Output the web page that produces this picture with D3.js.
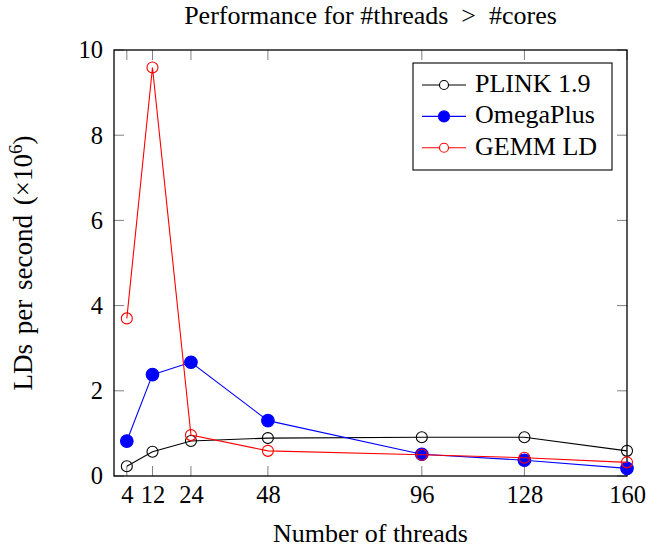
<!DOCTYPE html>
<html>
<head>
<meta charset="utf-8">
<script src="https://cdn.jsdelivr.net/npm/d3@7"></script>
<style>
  body { margin: 0; background: #fff; }
</style>
</head>
<body>
<div id="chart"></div>
<script>
// Data
const threads = [4, 12, 24, 48, 96, 128, 160];
const plink = [0.23, 0.57, 0.82, 0.89, 0.91, 0.91, 0.59];
const omegaPlus = [0.82, 2.38, 2.67, 1.30, 0.51, 0.37, 0.18];
const gemmLD = [3.70, 9.59, 0.96, 0.59, 0.50, 0.43, 0.32];
const yTicks = [0, 2, 4, 6, 8, 10];

const series = [
  {name: 'PLINK 1.9', values: plink, color: '#000', filled: false},
  {name: 'OmegaPlus', values: omegaPlus, color: '#00f', filled: true},
  {name: 'GEMM LD', values: gemmLD, color: '#f00', filled: false},
];

const width = 647;
const height = 550;
const margin = {top: 50, right: 20, bottom: 74, left: 114};
const TICK = 10;
const FONT = '"Liberation Serif"';

const svg = d3.select('#chart')
  .append('svg')
  .attr('width', width)
  .attr('height', height);

const x = d3.scaleLinear().domain([0, 160]).range([margin.left, width - margin.right]);
const y = d3.scaleLinear().domain([0, 10]).range([height - margin.bottom, margin.top]);

// grey tick marks, mirrored on all four sides, pointing inward
const ticks = svg.append('g').attr('stroke', '#808080').attr('stroke-width', 1);
threads.forEach(t => {
  ticks.append('line').attr('x1', x(t)).attr('x2', x(t))
    .attr('y1', y(0)).attr('y2', y(0) - TICK);
  ticks.append('line').attr('x1', x(t)).attr('x2', x(t))
    .attr('y1', y(10)).attr('y2', y(10) + TICK);
});
yTicks.forEach(v => {
  ticks.append('line').attr('x1', x(0)).attr('x2', x(0) + TICK)
    .attr('y1', y(v)).attr('y2', y(v));
  ticks.append('line').attr('x1', x(160)).attr('x2', x(160) - TICK)
    .attr('y1', y(v)).attr('y2', y(v));
});

// tick labels via axes (no tick lines, just text)
const xAxis = svg.append('g')
  .attr('transform', `translate(0,${y(0)})`)
  .call(d3.axisBottom(x).tickValues(threads).tickSize(0).tickPadding(10));
const yAxis = svg.append('g')
  .attr('transform', `translate(${x(0)},0)`)
  .call(d3.axisLeft(y).tickValues(yTicks).tickSize(0).tickPadding(11));
[xAxis, yAxis].forEach(a => {
  a.attr('font-family', FONT).attr('font-size', 24.5);
  a.select('.domain').remove();
});

// frame
svg.append('rect')
  .attr('x', x(0)).attr('y', y(10))
  .attr('width', x(160) - x(0)).attr('height', y(0) - y(10))
  .attr('fill', 'none').attr('stroke', '#000').attr('stroke-width', 1.3);

const line = d3.line().x((d, i) => x(threads[i])).y(d => y(d));

series.forEach(s => {
  const g = svg.append('g');
  g.append('path')
    .attr('d', line(s.values))
    .attr('fill', 'none')
    .attr('stroke', s.color)
    .attr('stroke-width', 1.1);
  g.selectAll('circle')
    .data(s.values)
    .enter()
    .append('circle')
    .attr('cx', (d, i) => x(threads[i]))
    .attr('cy', d => y(d))
    .attr('r', s.filled ? 6.3 : 5.5)
    .attr('fill', s.filled ? s.color : 'none')
    .attr('stroke', s.color)
    .attr('stroke-width', 1.1);
});

// legend
const legend = svg.append('g');
legend.append('rect')
  .attr('x', 413).attr('y', 63)
  .attr('width', 199).attr('height', 107)
  .attr('fill', '#fff').attr('stroke', '#000').attr('stroke-width', 1.1);
series.forEach((s, i) => {
  const ly = 85 + i * 31.4;
  legend.append('line')
    .attr('x1', 422).attr('x2', 466).attr('y1', ly).attr('y2', ly)
    .attr('stroke', s.color).attr('stroke-width', 1.1);
  legend.append('circle')
    .attr('cx', 444).attr('cy', ly)
    .attr('r', s.filled ? 5.5 : 4.5)
    .attr('fill', s.filled ? s.color : '#fff')
    .attr('stroke', s.color).attr('stroke-width', 1.1);
  legend.append('text')
    .attr('x', 475).attr('y', ly + 6.7)
    .attr('font-family', FONT)
    .attr('font-size', 26)
    .text(s.name);
});

// title and axis labels
svg.append('text')
  .attr('x', (x(0) + x(160)) / 2).attr('y', 24)
  .attr('text-anchor', 'middle')
  .attr('font-family', FONT)
  .attr('font-size', 26)
  .text('Performance for #threads\u2002>\u2002#cores');

svg.append('text')
  .attr('x', (x(0) + x(160)) / 2).attr('y', 541.5)
  .attr('text-anchor', 'middle')
  .attr('font-family', FONT)
  .attr('font-size', 26)
  .text('Number of threads');

const yl = svg.append('text')
  .attr('transform', `translate(32,${(y(0) + y(10)) / 2}) rotate(-90)`)
  .attr('text-anchor', 'middle')
  .attr('font-family', FONT)
  .attr('font-size', 27);
yl.append('tspan').text('LDs per second (×10');
yl.append('tspan').attr('font-size', 19).attr('dy', -10).text('6');
yl.append('tspan').attr('dy', 10).text(')');
// widen word gaps a little so the label spans about as far as in the reference
const ylLen = yl.node().getComputedTextLength();
yl.attr('word-spacing', Math.max(0, Math.min(4, (255 - ylLen) / 3)));
</script>
</body>
</html>
